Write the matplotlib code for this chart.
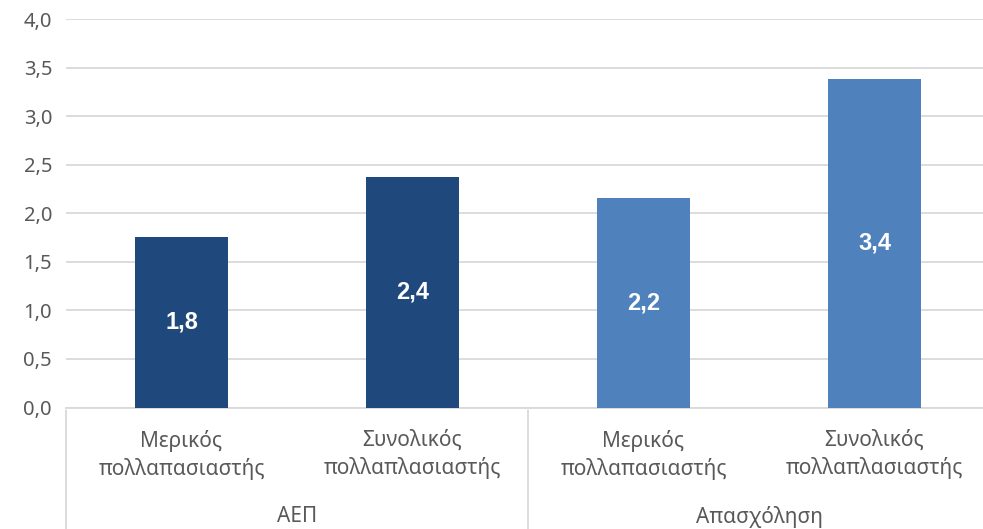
import matplotlib
matplotlib.use("Agg")
import matplotlib.pyplot as plt

plt.rcParams['font.family'] = ['Noto Sans', 'DejaVu Sans']

categories = ["Μερικός\nπολλαπασιαστής", "Συνολικός\nπολλαπλασιαστής",
              "Μερικός\nπολλαπασιαστής", "Συνολικός\nπολλαπλασιαστής"]
groups = ["ΑΕΠ", "Απασχόληση"]
values = [1.76, 2.38, 2.16, 3.39]
labels = ["1,8", "2,4", "2,2", "3,4"]
colors = ["#1F497D", "#1F497D", "#4F81BD", "#4F81BD"]
yticks = [0.0, 0.5, 1.0, 1.5, 2.0, 2.5, 3.0, 3.5, 4.0]

W, H = 983, 529
fig = plt.figure(figsize=(W / 100, H / 100), dpi=100)
left, right = 66, 990
top, bottom = 19.3, 407.5
ax = fig.add_axes([left / W, 1 - bottom / H, (right - left) / W, (bottom - top) / H])

x = list(range(len(values)))
bars = ax.bar(x, values, width=93 / 231, color=colors, zorder=3)
for b, lab in zip(bars, labels):
    ax.text(b.get_x() + b.get_width() / 2, b.get_height() / 2, lab,
            ha='center', va='center', color='white', fontsize=17, fontweight='bold',
            family=['Liberation Sans', 'DejaVu Sans'], zorder=4)

ax.set_xlim(-0.5, len(values) - 0.5)
ax.set_ylim(0, 4.0)
ax.set_yticks(yticks)
ax.set_yticklabels([f"{t:.1f}".replace('.', ',') for t in yticks], fontsize=14.5, color='#595959')
ax.yaxis.grid(True, color='#D9D9D9', linewidth=1.3, zorder=0)
ax.tick_params(axis='y', length=0, pad=10)
ax.tick_params(axis='x', length=0)
ax.set_xticks([])
for s in ['top', 'right', 'left']:
    ax.spines[s].set_visible(False)
ax.spines['bottom'].set_color('#D9D9D9')
ax.spines['bottom'].set_linewidth(1.3)

# category labels
for i, c in enumerate(categories):
    ax.annotate(c, xy=(i, 0), xycoords=('data', 'axes fraction'),
                xytext=(0, -22), textcoords='offset pixels', ha='center', va='top',
                fontsize=15, color='#595959', linespacing=1.4)
# group labels
for g, name in enumerate(groups):
    ax.annotate(name, xy=(g * 2 + 0.5, 0), xycoords=('data', 'axes fraction'),
                xytext=(0, -(517 - 407.5)), textcoords='offset pixels', ha='center', va='center',
                fontsize=15, color='#595959')
# separators
for xs in [-0.5, 1.5, 3.5]:
    ax.annotate('', xy=(xs, 0), xycoords=('data', 'axes fraction'),
                xytext=(xs, -130), textcoords=('data', 'offset pixels'),
                arrowprops=dict(arrowstyle='-', color='#D9D9D9', lw=1.3))

fig.savefig("out.png", dpi=100)
